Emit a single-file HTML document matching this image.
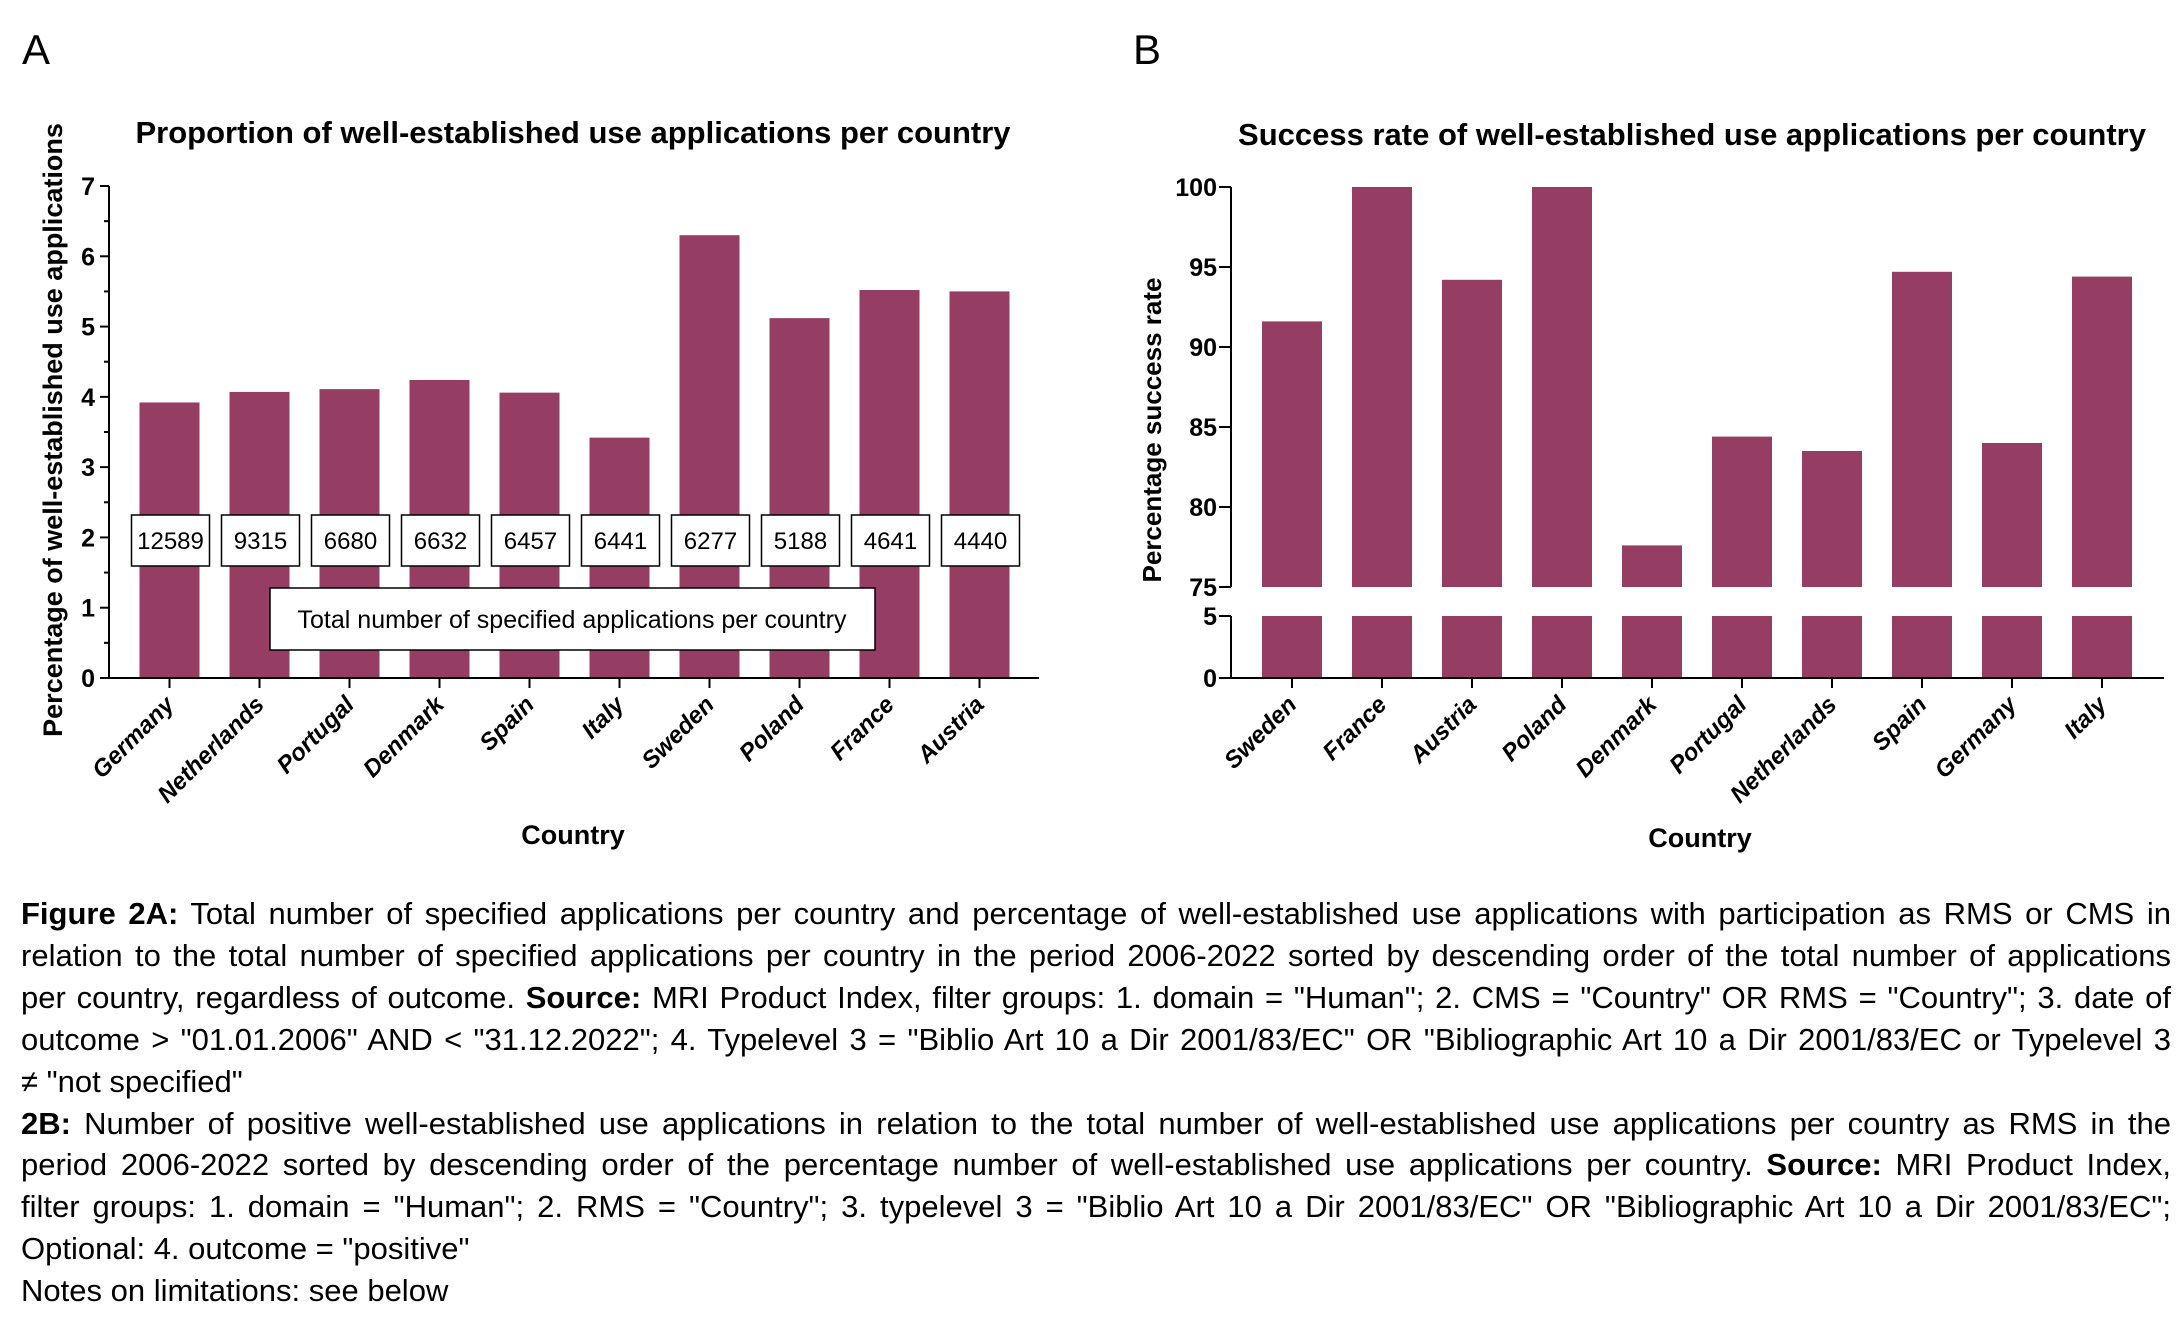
<!DOCTYPE html>
<html><head><meta charset="utf-8">
<style>
body{margin:0;width:2180px;height:1330px;background:#fff;overflow:hidden;font-family:"Liberation Sans",Arial,sans-serif;}
svg{position:absolute;left:0;top:0}
#cap{position:absolute;left:21px;top:893px;width:2150px;font-size:31px;line-height:41.9px;color:#000}
#cap div{text-align:justify;text-align-last:justify;white-space:nowrap;overflow:visible}
#cap div.last{text-align-last:left}
</style></head><body>
<svg id="chart" width="2180" height="1330" font-family="Liberation Sans, Arial, sans-serif"></svg>
<div id="cap">
<div><b>Figure 2A:</b> Total number of specified applications per country and percentage of well-established use applications with participation as RMS or CMS in</div>
<div>relation to the total number of specified applications per country in the period 2006-2022 sorted by descending order of the total number of applications</div>
<div>per country, regardless of outcome. <b>Source:</b> MRI Product Index, filter groups: 1. domain = "Human"; 2. CMS = "Country" OR RMS = "Country"; 3. date of</div>
<div>outcome &gt; "01.01.2006" AND &lt; "31.12.2022"; 4. Typelevel 3 = "Biblio Art 10 a Dir 2001/83/EC" OR "Bibliographic Art 10 a Dir 2001/83/EC or Typelevel 3</div>
<div class="last">≠ "not specified"</div>
<div><b>2B:</b> Number of positive well-established use applications in relation to the total number of well-established use applications per country as RMS in the</div>
<div>period 2006-2022 sorted by descending order of the percentage number of well-established use applications per country. <b>Source:</b> MRI Product Index,</div>
<div>filter groups: 1. domain = "Human"; 2. RMS = "Country"; 3. typelevel 3 = "Biblio Art 10 a Dir 2001/83/EC" OR "Bibliographic Art 10 a Dir 2001/83/EC";</div>
<div class="last">Optional: 4. outcome = "positive"</div>
<div class="last">Notes on limitations: see below</div>
</div>
<script>
const catsA = ["Germany","Netherlands","Portugal","Denmark","Spain","Italy","Sweden","Poland","France","Austria"];
const valsA = [3.92,4.07,4.11,4.24,4.06,3.42,6.30,5.12,5.52,5.50];
const countsA = ["12589","9315","6680","6632","6457","6441","6277","5188","4641","4440"];
const ticksA = [0,1,2,3,4,5,6,7];
const catsB = ["Sweden","France","Austria","Poland","Denmark","Portugal","Netherlands","Spain","Germany","Italy"];
const valsB = [91.6,100,94.2,100,77.6,84.4,83.5,94.7,84.0,94.4];
const ticksBTop = [75,80,85,90,95,100];
const ticksBBot = [0,5];

const NS="http://www.w3.org/2000/svg";
const svg=document.getElementById('chart');
const C="#953d63";
function mk(tag,attrs,parent,name,inter){const e=document.createElementNS(NS,tag);for(const k in attrs)e.setAttribute(k,attrs[k]);(parent||svg).appendChild(e);


return e;}
function txt(x,y,s,attrs,name){const t=mk('text',Object.assign({x:x,y:y},attrs),svg,name,false);t.textContent=s;return t;}

txt(22,64,"A",{"font-size":42},"panel-label-a");
txt(1133,64,"B",{"font-size":42},"panel-label-b");

// ---- Chart A ----
const ax0=109, ax1=1039, ay0=678, ayTop=186;
const yA=v=>ay0-(v/7)*(ay0-ayTop);
const xA=i=>169.5+i*90;
txt(573,143,"Proportion of well-established use applications per country",{"font-size":31,"font-weight":"bold","text-anchor":"middle"},"chart-a-title");
valsA.forEach((v,i)=>{mk('rect',{x:xA(i)-30,y:yA(v),width:60,height:ay0-yA(v),fill:C},svg,'bar-a-'+catsA[i].toLowerCase(),false);});
mk('line',{x1:ax0,y1:ayTop,x2:ax0,y2:ay0+1,stroke:"#000","stroke-width":2},svg,'y-axis-a',false);
mk('line',{x1:ax0,y1:ay0,x2:ax1,y2:ay0,stroke:"#000","stroke-width":2},svg,'x-axis-a',false);
for(let v=0;v<=7;v+=0.5){const y=yA(v);mk('line',{x1:ax0-(v%1===0?9:5),y1:y,x2:ax0,y2:y,stroke:"#000","stroke-width":2},svg,'y-tick-a',false);}
ticksA.forEach(v=>txt(ax0-14,yA(v)+9,String(v),{"font-size":25,"font-weight":"bold","text-anchor":"end"},'y-tick-label-a'));
catsA.forEach((c,i)=>{const x=xA(i);mk('line',{x1:x,y1:ay0,x2:x,y2:ay0+10,stroke:"#000","stroke-width":2},svg,'x-tick-a',false);
 txt(x+6,ay0+28,c,{"font-size":24,"font-weight":"bold","font-style":"italic","text-anchor":"end",transform:`rotate(-45 ${x+6} ${ay0+28})`},'x-tick-label-a');});
countsA.forEach((s,i)=>{const x=xA(i)+1;mk('rect',{x:x-39,y:515,width:78,height:51,fill:"#fff",stroke:"#000","stroke-width":1.5},svg,'count-box',false);
 txt(x,549,s,{"font-size":24,"text-anchor":"middle"},'count-label');});
mk('rect',{x:270,y:588,width:605,height:62,fill:"#fff",stroke:"#000","stroke-width":1.5},svg,'count-legend-box',false);
txt(572,628,"Total number of specified applications per country",{"font-size":25,"text-anchor":"middle"},'count-legend-text');
txt(62,430,"Percentage of well-established use applications",{"font-size":27,"font-weight":"bold","text-anchor":"middle",transform:"rotate(-90 62 430)"},'y-axis-title-a');
txt(573,844,"Country",{"font-size":27,"font-weight":"bold","text-anchor":"middle"},'x-axis-title-a');

// ---- Chart B ----
const bx0=1231, bx1=2164, byTop=187, by75=587, by5=616, by0=678;
const yBt=v=>by75-(v-75)/25*(by75-byTop);
const yBb=v=>by0-(v/5)*(by0-by5);
const xB=i=>1292+i*90;
txt(1692,145,"Success rate of well-established use applications per country",{"font-size":31,"font-weight":"bold","text-anchor":"middle"},"chart-b-title");
valsB.forEach((v,i)=>{
 mk('rect',{x:xB(i)-30,y:yBt(v),width:60,height:by75-yBt(v),fill:C},svg,'bar-b-'+catsB[i].toLowerCase(),false);
 mk('rect',{x:xB(i)-30,y:yBb(5),width:60,height:by0-yBb(5),fill:C},svg,'bar-b-lower-'+catsB[i].toLowerCase(),false);
});
mk('line',{x1:bx0,y1:byTop,x2:bx0,y2:by75,stroke:"#000","stroke-width":2},svg,'y-axis-b-upper',false);
mk('line',{x1:bx0,y1:by5,x2:bx0,y2:by0+1,stroke:"#000","stroke-width":2},svg,'y-axis-b-lower',false);
mk('line',{x1:bx0,y1:by0,x2:bx1,y2:by0,stroke:"#000","stroke-width":2},svg,'x-axis-b',false);
ticksBTop.forEach(v=>{const y=yBt(v);mk('line',{x1:bx0-12,y1:y,x2:bx0,y2:y,stroke:"#000","stroke-width":2},svg,'y-tick-b',false);
 txt(bx0-14,y+9,String(v),{"font-size":25,"font-weight":"bold","text-anchor":"end"},'y-tick-label-b');});
ticksBBot.forEach(v=>{const y=yBb(v);mk('line',{x1:bx0-12,y1:y,x2:bx0,y2:y,stroke:"#000","stroke-width":2},svg,'y-tick-b',false);
 txt(bx0-14,y+9,String(v),{"font-size":25,"font-weight":"bold","text-anchor":"end"},'y-tick-label-b');});
catsB.forEach((c,i)=>{const x=xB(i);mk('line',{x1:x,y1:by0,x2:x,y2:by0+10,stroke:"#000","stroke-width":2},svg,'x-tick-b',false);
 txt(x+6,by0+28,c,{"font-size":24,"font-weight":"bold","font-style":"italic","text-anchor":"end",transform:`rotate(-45 ${x+6} ${by0+28})`},'x-tick-label-b');});
txt(1161,430,"Percentage success rate",{"font-size":26,"font-weight":"bold","text-anchor":"middle",transform:"rotate(-90 1161 430)"},'y-axis-title-b');
txt(1700,847,"Country",{"font-size":27,"font-weight":"bold","text-anchor":"middle"},'x-axis-title-b');
</script>
</body></html>
